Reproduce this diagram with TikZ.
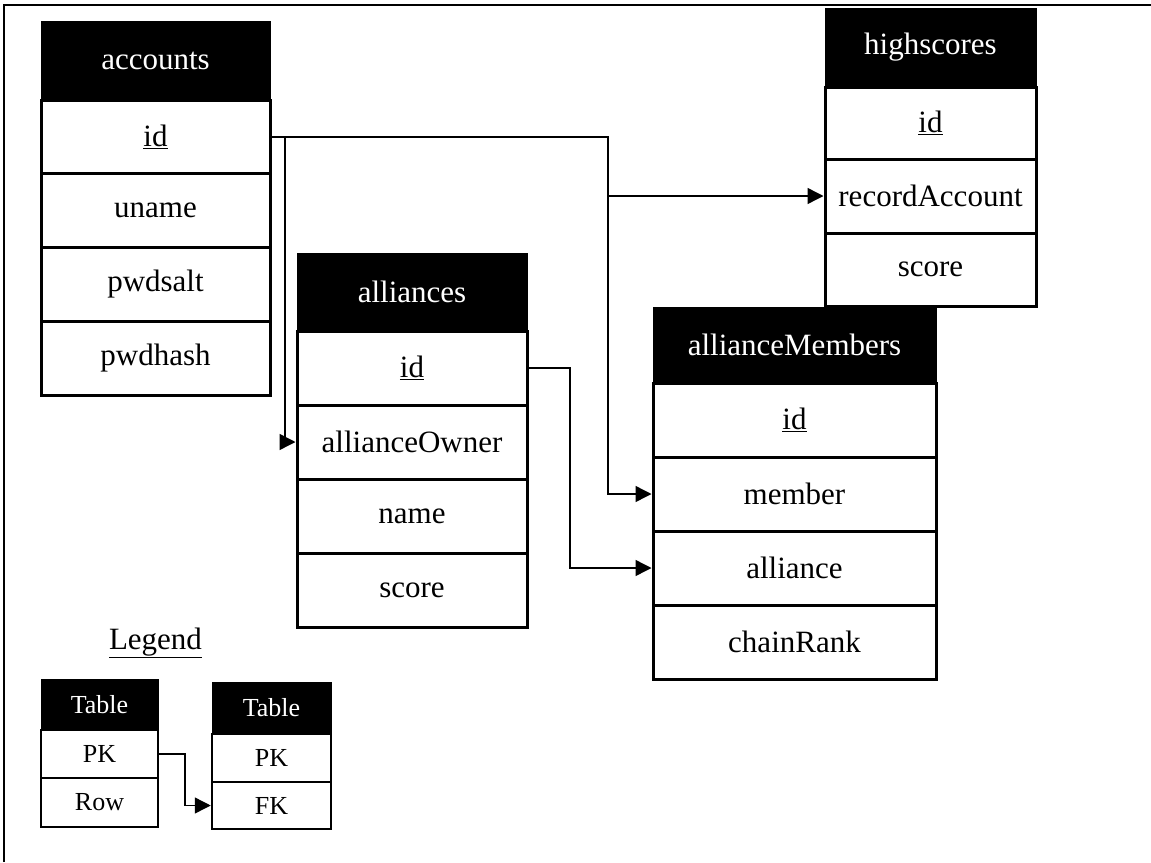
\documentclass[tikz,border=0pt]{standalone}
\usepackage{fontspec}
\setmainfont{Liberation Serif}
\usetikzlibrary{arrows.meta}

\begin{document}
\begin{tikzpicture}[x=1pt, y=-1pt,
  thead/.style={draw, fill=black, text=white, line width=1pt, inner sep=0pt, font=\fontsize{31}{36}\selectfont},
  trow/.style={draw, fill=white, line width=3pt, inner sep=0pt, font=\fontsize{31}{36}\selectfont},
  lhead/.style={thead, font=\fontsize{26}{30}\selectfont},
  lrow/.style={trow, line width=2.5pt, font=\fontsize{26}{30}\selectfont},
  fkey/.style={line width=1.4pt, -{Triangle[length=16pt,width=16pt]}}]
  \useasboundingbox (0,0) rectangle (1151,862);
  \draw[line width=2pt] (4,862) -- (4,5) -- (1151,5);

  \node[thead, minimum width=229pt, minimum height=79pt] (acc) at (155.5,60.5) {accounts};
  \node[trow, minimum width=229pt, minimum height=74pt] (acc-id) at (155.5,137) {\underline{id}};
  \node[trow, minimum width=229pt, minimum height=74pt] (acc-uname) at (155.5,210.5) {uname};
  \node[trow, minimum width=229pt, minimum height=74pt] (acc-salt) at (155.5,284) {pwdsalt};
  \node[trow, minimum width=229pt, minimum height=74pt] (acc-hash) at (155.5,358) {pwdhash};

  \node[thead, minimum width=211pt, minimum height=79pt] (hs) at (930.5,47.5) {highscores};
  \node[trow, minimum width=211pt, minimum height=72pt] (hs-id) at (930.5,123) {\underline{id}};
  \node[trow, minimum width=211pt, minimum height=74pt] (hs-rec) at (930.5,196) {recordAccount};
  \node[trow, minimum width=211pt, minimum height=73pt] (hs-score) at (930.5,269.5) {score};

  \node[thead, minimum width=230pt, minimum height=78pt] (al) at (412,292) {alliances};
  \node[trow, minimum width=230pt, minimum height=74pt] (al-id) at (412,368) {\underline{id}};
  \node[trow, minimum width=230pt, minimum height=74pt] (al-owner) at (412,442) {allianceOwner};
  \node[trow, minimum width=230pt, minimum height=74pt] (al-name) at (412,516) {name};
  \node[trow, minimum width=230pt, minimum height=74pt] (al-score) at (412,590) {score};

  \node[thead, minimum width=283pt, minimum height=76pt] (am) at (794.5,345) {allianceMembers};
  \node[trow, minimum width=283pt, minimum height=74pt] (am-id) at (794.5,420) {\underline{id}};
  \node[trow, minimum width=283pt, minimum height=74pt] (am-member) at (794.5,494) {member};
  \node[trow, minimum width=283pt, minimum height=74pt] (am-alliance) at (794.5,568) {alliance};
  \node[trow, minimum width=283pt, minimum height=74pt] (am-rank) at (794.5,642) {chainRank};

  \node[font=\fontsize{31}{36}\selectfont] (legend) at (155.5,643) {\underline{Legend}};
  \node[lhead, minimum width=117pt, minimum height=51pt] (lg1) at (99.5,704.5) {Table};
  \node[lrow, minimum width=117pt, minimum height=48pt] (lg1-pk) at (99.5,754) {PK};
  \node[lrow, minimum width=117pt, minimum height=49pt] (lg1-row) at (99.5,802.5) {Row};
  \node[lhead, minimum width=119pt, minimum height=52pt] (lg2) at (271.5,708) {Table};
  \node[lrow, minimum width=119pt, minimum height=48pt] (lg2-pk) at (271.5,758) {PK};
  \node[lrow, minimum width=119pt, minimum height=47pt] (lg2-fk) at (271.5,805.5) {FK};

  \coordinate (j1) at (608,137);
  \coordinate (j2) at (285,137);
  \coordinate (j3) at (570,368);
  \coordinate (j4) at (185,754);
  \draw[fkey] (acc-id.east) -- (j1) |- (am-member.west);
  \draw[fkey] (j1 |- hs-rec.west) -- (hs-rec.west);
  \draw[fkey] (acc-id.east) -- (j2) |- (al-owner.west);
  \draw[fkey] (al-id.east) -- (j3) |- (am-alliance.west);
  \draw[fkey] (lg1-pk.east) -- (j4) |- (lg2-fk.west);
\end{tikzpicture}
\end{document}
